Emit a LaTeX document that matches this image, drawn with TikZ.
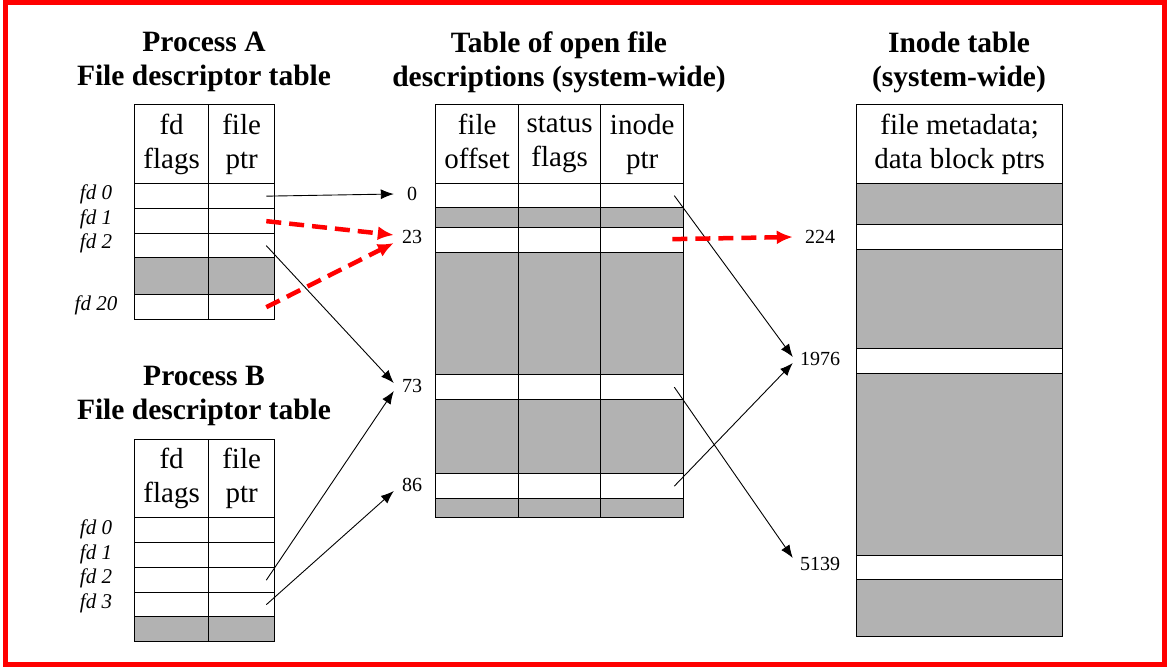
\documentclass[tikz,border=0pt]{standalone}
\usepackage{fontspec}
\setmainfont{Liberation Serif}
\usetikzlibrary{positioning}
\usetikzlibrary{arrows.meta}
\definecolor{used}{gray}{0.7}
\tikzset{edge/.style = {-{Latex[length=13pt,width=10pt]}, line width=0.9pt},
         share/.style = {-{Latex[length=16pt,width=14pt]}, red, line width=4.5pt, dash pattern=on 15pt off 8pt}}

\begin{document}
\begin{tikzpicture}[x=1pt,y=-1pt,
    cell/.style={draw, line width=1.3pt, inner sep=0pt, anchor=north west, minimum height=#1},
    head/.style={align=center, font=\fontsize{29}{34}\selectfont,
                 execute at begin node=\rule{0pt}{29pt}, execute at end node=\rule[-5pt]{0pt}{5pt}},
    title/.style={align=center, font=\fontsize{29.5}{34}\selectfont\bfseries},
    fdlab/.style={font=\fontsize{21}{24}\selectfont\itshape},
    num/.style={font=\fontsize{20}{24}\selectfont, inner sep=0pt, minimum width=#1}]
    \useasboundingbox (0,0) rectangle (1170,670);
    \draw[red, line width=5pt] (5.5,2.5) rectangle (1164.5,664);

    % titles
    \node[title] (tA) at (204,62) {Process A\\File descriptor table};
    \node[title] (tB) at (204,396) {Process B\\File descriptor table};
    \node[title] (tM) at (559,62) {Table of open file\\descriptions (system-wide)};
    \node[title] (tI) at (959,62) {Inode table\\(system-wide)};

    % process A
    \node[cell=79, minimum width=74, head] (Afl) at (134,104) {fd\\flags};
    \node[cell=79, minimum width=66, head] (Apt) at (208,104) {file\\ptr};
    \foreach \r/\y/\h/\c in {0/183/25/white, 1/208/25/white, 2/233/24/white, g/257/37/used, 20/294/25/white}{
        \node[cell=\h, minimum width=74, fill=\c] (Afl\r) at (134,\y) {};
        \node[cell=\h, minimum width=66, fill=\c] (Apt\r) at (208,\y) {};
    }
    \foreach \r/\y in {0/194, 1/219, 2/243, 20/305}
        \node[fdlab] (Afd\r) at (96,\y) {fd \r};

    % process B
    \node[cell=78, minimum width=74, head] (Bfl) at (134,439) {fd\\flags};
    \node[cell=78, minimum width=66, head] (Bpt) at (208,439) {file\\ptr};
    \foreach \r/\y/\h/\c in {0/517/25/white, 1/542/25/white, 2/567/25/white, 3/592/24/white, g/616/25/used}{
        \node[cell=\h, minimum width=74, fill=\c] (Bfl\r) at (134,\y) {};
        \node[cell=\h, minimum width=66, fill=\c] (Bpt\r) at (208,\y) {};
    }
    \foreach \r/\y in {0/529, 1/554, 2/578, 3/603}
        \node[fdlab] (Bfd\r) at (96,\y) {fd \r};

    % open file descriptions
    \node[cell=79, minimum width=83, head] (Moff) at (435,104) {file\\offset};
    \node[cell=79, minimum width=82, head] (Mst) at (518,104) {status\\flags};
    \node[cell=79, minimum width=83, head] (Min) at (600,104) {inode\\ptr};
    \foreach \r/\y/\h/\c in {0/183/24/white, ga/207/20/used, 23/227/25/white, gb/252/122/used,
                             73/374/25/white, gc/399/74/used, 86/473/25/white, gd/498/19/used}{
        \node[cell=\h, minimum width=83, fill=\c] (Moff\r) at (435,\y) {};
        \node[cell=\h, minimum width=82, fill=\c] (Mst\r) at (518,\y) {};
        \node[cell=\h, minimum width=83, fill=\c] (Min\r) at (600,\y) {};
    }
    \foreach \r/\y in {0/194, 23/237, 73/386, 86/485}
        \node[num=36] (n\r) at (412,\y) {\r};

    % inode table
    \node[cell=79, minimum width=206, head] (Ihd) at (856,104) {file metadata;\\data block ptrs};
    \foreach \r/\y/\h/\c in {ga/183/41/used, 224/224/25/white, gb/249/99/used, 1976/348/25/white,
                             gc/373/182/used, 5139/555/24/white, gd/579/57/used}{
        \node[cell=\h, minimum width=206, fill=\c] (I\r) at (856,\y) {};
    }
    \foreach \r/\y in {224/237, 1976/359, 5139/564}
        \node[num=54] (n\r) at (820,\y) {\r};

    % pointers
    \draw[edge] ([xshift=-9pt]Apt0.east) -- (n0.west);
    \draw[share] ([xshift=-9pt]Apt1.east) -- ([yshift=2pt]n23.west);
    \draw[edge] ([xshift=-9pt]Apt2.east) -- ([yshift=3pt]n73.west);
    \draw[share] ([xshift=-9pt]Apt20.east) -- ([yshift=-6pt]n23.west);
    \draw[edge] ([xshift=-9pt]Bpt2.east) -- ([yshift=-5pt]n73.west);
    \draw[edge] ([xshift=-9pt]Bpt3.east) -- ([yshift=-6pt]n86.west);
    \draw[edge] ([xshift=-10pt]Min0.east) -- ([yshift=2pt]n1976.west);
    \draw[share] ([xshift=-12pt,yshift=1pt]Min23.east) -- (n224.west);
    \draw[edge] ([xshift=-10pt]Min73.east) -- ([yshift=6pt]n5139.west);
    \draw[edge] ([xshift=-10pt]Min86.east) -- ([yshift=-4pt]n1976.west);
\end{tikzpicture}
\end{document}
